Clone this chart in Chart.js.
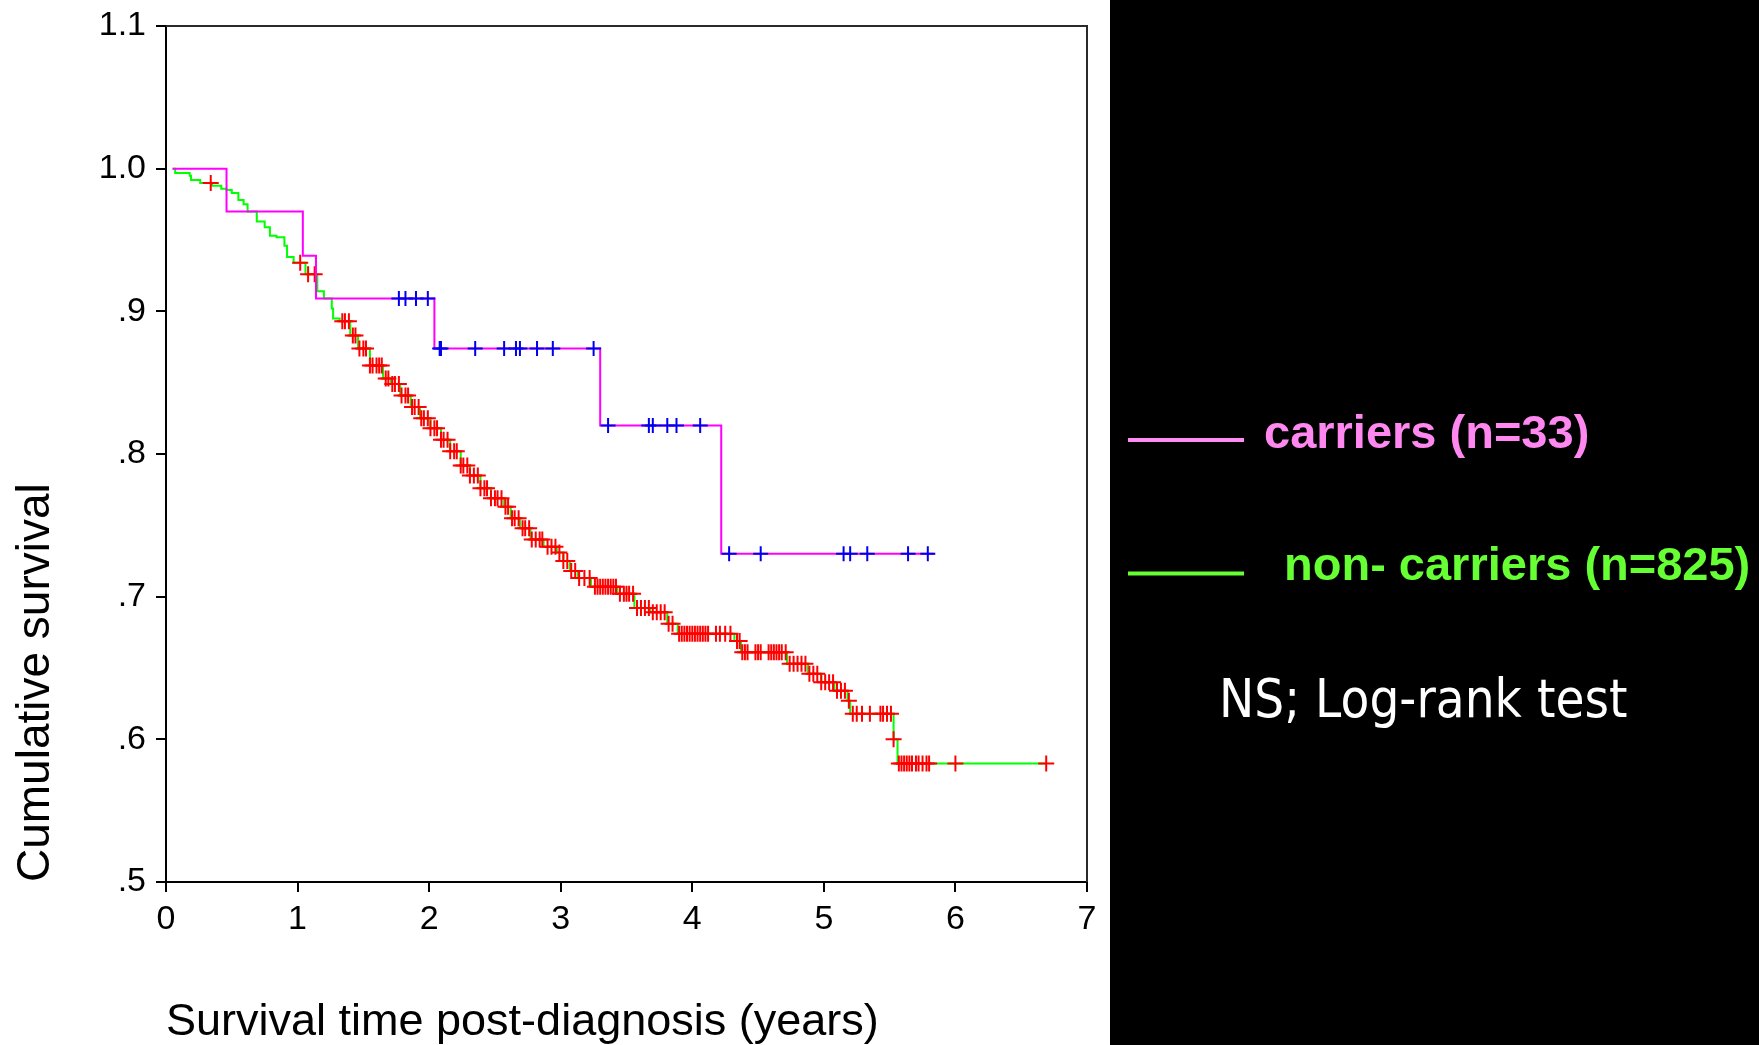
<!DOCTYPE html>
<html>
<head>
<meta charset="utf-8">
<script src="https://cdn.jsdelivr.net/npm/chart.js@4.4.1/dist/chart.umd.min.js"></script>
<style>
  html, body { margin: 0; padding: 0; background: #fff; overflow: hidden; }
</style>
</head>
<body>
<canvas id="km" width="1759" height="1045"></canvas>
<script>
// Kaplan-Meier survival, carriers vs non-carriers

const xTicks = [0, 1, 2, 3, 4, 5, 6, 7];
const yTicks = [0.5, 0.6, 0.7, 0.8, 0.9, 1.0, 1.1];
const yTickLabels = [".5", ".6", ".7", ".8", ".9", "1.0", "1.1"];

// carriers (n=33): step times and survival after each step
const carrTime = [0.05, 0.46, 1.04, 1.14, 2.04, 3.30, 4.22, 5.84];
const carrSurv = [1.000, 0.970, 0.939, 0.909, 0.874, 0.820, 0.730, 0.730];
// carriers censored
const carrCens = [1.77, 1.82, 1.90, 1.99, 2.08, 2.09, 2.35, 2.57, 2.66, 2.69, 2.82, 2.94, 3.25,
  3.36, 3.67, 3.70, 3.81, 3.88, 4.06, 4.28, 4.52, 5.15, 5.20, 5.33, 5.64, 5.79];

// non-carriers (n=825)
const ncTime = [0.05, 0.07, 0.18, 0.19, 0.26, 0.35, 0.42, 0.46, 0.50, 0.55, 0.59, 0.62, 0.69, 0.75,
  0.79, 0.84, 0.90, 0.92, 0.97, 1.06, 1.15, 1.20, 1.26, 1.27, 1.32, 1.40, 1.46, 1.55, 1.65, 1.71,
  1.78, 1.86, 1.93, 2.01, 2.09, 2.16, 2.24, 2.31, 2.39, 2.47, 2.57, 2.62, 2.69, 2.77, 2.87, 2.97,
  3.02, 3.07, 3.13, 3.23, 3.43, 3.56, 3.68, 3.81, 3.89, 4.32, 4.37, 4.72, 4.88, 4.98, 5.08, 5.18,
  5.20, 5.53, 5.56, 6.69];
const ncSurv = [1.000, 0.997, 0.995, 0.992, 0.990, 0.988, 0.986, 0.985, 0.983, 0.978, 0.975, 0.970,
  0.963, 0.959, 0.953, 0.952, 0.946, 0.938, 0.934, 0.926, 0.914, 0.909, 0.902, 0.895, 0.893, 0.883,
  0.874, 0.862, 0.853, 0.849, 0.841, 0.833, 0.825, 0.818, 0.810, 0.802, 0.792, 0.785, 0.776, 0.769,
  0.763, 0.755, 0.748, 0.740, 0.735, 0.731, 0.725, 0.718, 0.713, 0.707, 0.702, 0.692, 0.689, 0.681,
  0.674, 0.669, 0.661, 0.653, 0.646, 0.640, 0.634, 0.627, 0.618, 0.600, 0.583, 0.583];
// non-carriers censored
const ncCens = [0.34, 1.02, 1.08, 1.13,
  1.34, 1.36, 1.39, 1.42, 1.44, 1.47, 1.50, 1.52, 1.55, 1.57, 1.60, 1.62, 1.64, 1.67, 1.69, 1.72,
  1.74, 1.77, 1.79, 1.82, 1.84, 1.87, 1.89, 1.92, 1.94, 1.96, 1.99, 2.01, 2.04, 2.06, 2.09, 2.11,
  2.14, 2.16, 2.19, 2.21, 2.24, 2.26, 2.29, 2.31, 2.34, 2.37, 2.39, 2.42, 2.44, 2.47, 2.50, 2.52,
  2.55, 2.58, 2.60, 2.63, 2.65, 2.68, 2.71, 2.73, 2.76, 2.78, 2.81, 2.84, 2.86, 2.90, 2.93, 2.96,
  2.99, 3.02, 3.05, 3.08, 3.11, 3.14, 3.18, 3.22, 3.26, 3.28, 3.30, 3.32, 3.34, 3.36, 3.38, 3.40,
  3.42, 3.45, 3.48, 3.50, 3.52, 3.55, 3.58, 3.61, 3.64, 3.67, 3.70, 3.73, 3.76, 3.79, 3.82, 3.85,
  3.90, 3.92, 3.94, 3.96, 3.98, 4.00, 4.02, 4.04, 4.06, 4.08, 4.10, 4.12, 4.18, 4.21, 4.25, 4.29,
  4.34, 4.36, 4.38, 4.40, 4.42, 4.48, 4.50, 4.52, 4.58, 4.60, 4.62, 4.64, 4.66, 4.68, 4.71, 4.74,
  4.77, 4.80, 4.83, 4.86, 4.89, 4.92, 4.95, 4.98, 5.01, 5.04, 5.07, 5.10, 5.13, 5.16, 5.19, 5.22,
  5.25, 5.29, 5.35, 5.43, 5.45, 5.48, 5.51, 5.53, 5.57, 5.59, 5.61, 5.63, 5.65, 5.67, 5.70, 5.72,
  5.75, 5.78, 5.80, 6.00, 6.69];

const legendLabels = ["carriers (n=33)", "non- carriers (n=825)"];
const testNote = "NS; Log-rank test";

function survAt(times, surv, t) {
  let s = surv[0];
  for (let i = 0; i < times.length; i++) {
    if (times[i] <= t + 1e-9) s = surv[i];
  }
  return s;
}
const stepPts = (times, surv) => times.map((t, i) => ({ x: t, y: surv[i] }));
const censPts = (cens, times, surv) => cens.map((t) => ({ x: t, y: survAt(times, surv, t) }));

const AXIS_FONT = "'Liberation Sans', Arial, sans-serif";

// white page, black side panel, frame, legend and note
const panel = {
  id: "panel",
  beforeDraw(chart) {
    const c = chart.ctx;
    c.save();
    c.fillStyle = "#fff";
    c.fillRect(0, 0, chart.width, chart.height);
    c.fillStyle = "#000";
    c.fillRect(1110, 0, chart.width - 1110, chart.height);
    c.restore();
  },
  afterDraw(chart) {
    const c = chart.ctx;
    const a = chart.chartArea;
    c.save();
    // top + right frame
    c.strokeStyle = "#2a2a2a";
    c.lineWidth = 2;
    c.beginPath();
    c.moveTo(a.left, a.top);
    c.lineTo(a.right, a.top);
    c.lineTo(a.right, a.bottom);
    c.stroke();

    // legend
    c.lineWidth = 4;
    c.strokeStyle = "#ff8cf0";
    c.beginPath(); c.moveTo(1128, 440); c.lineTo(1244, 440); c.stroke();
    c.strokeStyle = "#66ff33";
    c.beginPath(); c.moveTo(1128, 573.5); c.lineTo(1244, 573.5); c.stroke();

    c.textAlign = "left";
    c.textBaseline = "alphabetic";
    c.font = "bold 47px " + AXIS_FONT;
    c.fillStyle = "#ff88f0";
    c.fillText(legendLabels[0], 1264, 448);
    c.fillStyle = "#66ff33";
    c.fillText(legendLabels[1], 1284, 580);

    c.fillStyle = "#ffffff";
    c.font = "53px 'DejaVu Sans', Verdana, sans-serif";
    c.translate(1219, 717);
    c.scale(0.89, 1);
    c.fillText(testNote, 0, 0);
    c.restore();
  },
};

new Chart(document.getElementById("km"), {
  type: "scatter",
  data: {
    datasets: [
      {
        label: "carriers censored",
        data: censPts(carrCens, carrTime, carrSurv),
        pointStyle: "cross",
        pointRadius: 7.5,
        pointBorderWidth: 2,
        pointBorderColor: "#0000ee",
        order: 1,
      },
      {
        label: "carriers",
        data: stepPts(carrTime, carrSurv),
        showLine: true,
        stepped: "before",
        borderColor: "#ff00ff",
        borderWidth: 2,
        pointRadius: 0,
        order: 2,
      },
      {
        label: "non-carriers censored",
        data: censPts(ncCens, ncTime, ncSurv),
        pointStyle: "cross",
        pointRadius: 8,
        pointBorderWidth: 2,
        pointBorderColor: "#ff0000",
        order: 3,
      },
      {
        label: "non-carriers",
        data: stepPts(ncTime, ncSurv),
        showLine: true,
        stepped: "before",
        borderColor: "#00ff00",
        borderWidth: 2,
        pointRadius: 0,
        order: 4,
      },
    ],
  },
  options: {
    responsive: false,
    animation: false,
    events: [],
    layout: { padding: { top: 26, right: 672, left: 0, bottom: 0 } },
    plugins: {
      legend: { display: false },
      tooltip: { enabled: false },
    },
    scales: {
      x: {
        type: "linear",
        min: 0,
        max: 7,
        afterBuildTicks: (s) => { s.ticks = xTicks.map((v) => ({ value: v })); },
        afterFit: (s) => { s.height = 163; s.paddingLeft = 0; s.paddingRight = 0; },
        ticks: {
          font: { family: AXIS_FONT, size: 34 },
          color: "#000",
          padding: 7,
          maxRotation: 0,
          autoSkip: false,
          callback: (v) => String(v),
        },
        grid: { drawOnChartArea: false, drawTicks: true, tickLength: 10, color: "#000", lineWidth: 2 },
        border: { display: true, color: "#000", width: 2 },
        title: {
          display: true,
          text: "Survival time post-diagnosis (years)",
          align: "start",
          color: "#000",
          font: { family: AXIS_FONT, size: 45 },
          padding: { top: 0, bottom: -5 },
        },
      },
      y: {
        type: "linear",
        min: 0.5,
        max: 1.1,
        afterBuildTicks: (s) => { s.ticks = yTicks.map((v) => ({ value: v })); },
        afterFit: (s) => { s.width = 166; s.paddingTop = 0; s.paddingBottom = 0; },
        ticks: {
          font: { family: AXIS_FONT, size: 34 },
          color: "#000",
          padding: 10,
          autoSkip: false,
          callback: (v, i) => yTickLabels[i],
        },
        grid: { drawOnChartArea: false, drawTicks: true, tickLength: 10, color: "#000", lineWidth: 2 },
        border: { display: true, color: "#000", width: 2 },
        title: {
          display: true,
          text: "Cumulative survival",
          align: "start",
          color: "#000",
          font: { family: AXIS_FONT, size: 46 },
          padding: { top: 9, bottom: 0 },
        },
      },
    },
  },
  plugins: [panel],
});
</script>
</body>
</html>
